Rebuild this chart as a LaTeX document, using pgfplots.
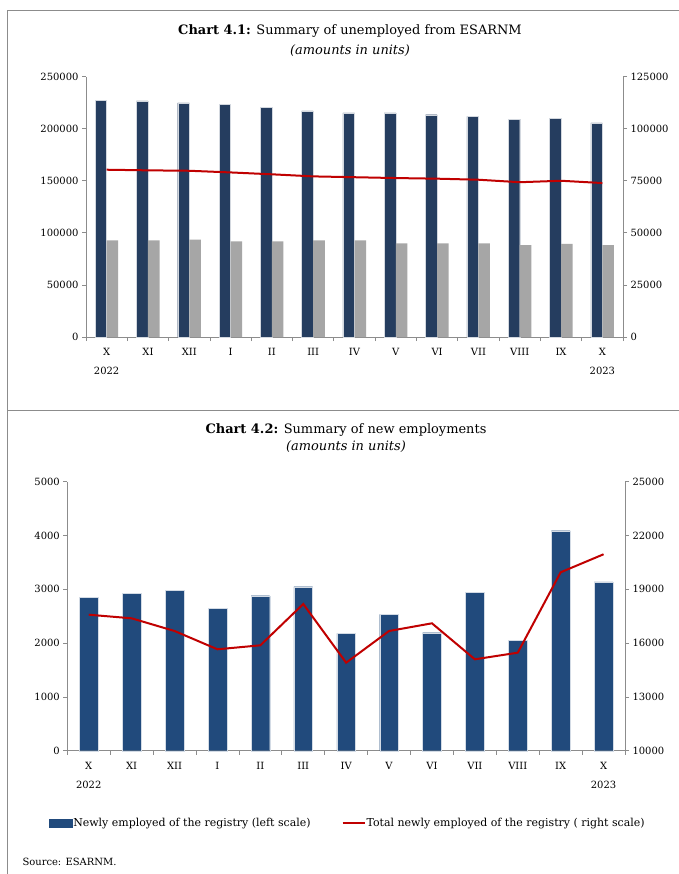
\documentclass[border=0pt]{standalone}
\usepackage{fontspec}
\setmainfont{DejaVu Serif}
\usepackage{pgfplots}
\pgfplotsset{compat=1.18}
\definecolor{navyA}{HTML}{253D5F}
\definecolor{navyB}{HTML}{214A7C}
\definecolor{greyB}{HTML}{A6A6A6}
\definecolor{redL}{HTML}{C00000}
\definecolor{axgray}{HTML}{8C8C8C}
\pgfplotsset{
  common/.style={
    scale only axis,
    axis line style={axgray, line width=0.8bp},
    tick style={axgray, line width=0.8bp},
    tick align=outside,
    major tick length=4bp,
    minor tick length=4bp,
    yticklabel style={font=\fontsize{10}{12}\selectfont, text=black},
    /pgf/number format/fixed,
    /pgf/number format/precision=0,
    /pgf/number format/assume math mode=true,
    /pgf/number format/1000 sep={},
    scaled y ticks=false,
    xmin=-0.5, xmax=12.5,
    clip=false,
  },
  xcats/.style={
    xtick={0,...,12},
    xticklabels={{X\\2022},XI,XII,I,II,III,IV,V,VI,VII,VIII,IX,{X\\2023}},
    xticklabel style={font=\fontsize{10}{19}\selectfont, align=center, text=black, anchor=north, yshift=-4bp},
    major x tick style={draw=none},
    minor xtick={-0.5,0.5,...,12.5},
  },
}
\begin{document}
\begin{tikzpicture}
\useasboundingbox (0,0) rectangle (679bp,-874bp);
\fill[white] (0,0) rectangle (679bp,-874bp);
% frame
\draw[axgray, line width=1bp] (7.5bp,-874bp) -- (7.5bp,-10.5bp) -- (679bp,-10.5bp);
\draw[axgray, line width=1bp] (7.5bp,-410.5bp) -- (679bp,-410.5bp);
% titles
\node[font=\fontsize{13}{15}\selectfont] at (350bp,-31bp) {\textbf{Chart 4.1:} Summary of unemployed from ESARNM};
\node[font=\fontsize{13}{15}\selectfont\itshape] at (350bp,-51bp) {(amounts in units)};
\node[font=\fontsize{13}{15}\selectfont] at (346bp,-430bp) {\textbf{Chart 4.2:} Summary of new employments};
\node[font=\fontsize{13}{15}\selectfont\itshape] at (346bp,-447bp) {(amounts in units)};
\node[font=\fontsize{10}{12}\selectfont, anchor=west] at (19bp,-862bp) {Source: ESARNM.};

% ---------- Chart 4.1 ----------
\begin{axis}[common, xcats, at={(86bp,-337bp)}, anchor=south west,
  width=537bp, height=260.4bp,
  ymin=0, ymax=250000, ytick={0,50000,...,250000},
  axis x line*=bottom, axis y line*=left]
\addplot[ybar, bar width=0.28, bar shift=-0.14, fill=navyA, draw=white!80!navyA, line width=0.4bp] coordinates {
(0,227200) (1,226600) (2,224700) (3,223400) (4,220500) (5,217000) (6,215100)
(7,215100) (8,213400) (9,211900) (10,209000) (11,210000) (12,205500)};
\addplot[ybar, bar width=0.28, bar shift=0.14, fill=greyB, draw=none] coordinates {
(0,92800) (1,92800) (2,93400) (3,91900) (4,91900) (5,92800) (6,92800)
(7,90000) (8,90000) (9,90000) (10,88300) (11,89300) (12,88300)};
\end{axis}
\begin{axis}[common, at={(86bp,-337bp)}, anchor=south west,
  width=537bp, height=260.4bp,
  ymin=0, ymax=125000, ytick={0,25000,...,125000},
  axis y line*=right, axis x line=none]
\addplot[redL, line width=2bp] coordinates {
(0,80300) (1,80000) (2,79800) (3,79000) (4,78100) (5,77100) (6,76700)
(7,76300) (8,76000) (9,75500) (10,74300) (11,75000) (12,73900)};
\end{axis}

% ---------- Chart 4.2 ----------
\begin{axis}[common, xcats, at={(67.3bp,-750.7bp)}, anchor=south west,
  width=557.7bp, height=269bp,
  ymin=0, ymax=5000, ytick={0,1000,...,5000},
  axis x line*=bottom, axis y line*=left,
  legend style={at={(0.502,-0.269)}, anchor=center, draw=none, fill=none,
    legend columns=2, font=\fontsize{11}{13}\selectfont,
    /tikz/every even column/.append style={column sep=30bp},
    nodes={inner sep=1bp}},
  legend cell align=left]
\addplot[ybar, bar width=0.436, bar shift=0, fill=navyB, draw=white!80!navyB, line width=0.4bp,
  legend image code/.code={\fill[navyB] (0bp,-4bp) rectangle (23bp,4bp);}] coordinates {
(0,2857) (1,2931) (2,2987) (3,2652) (4,2881) (5,3048) (6,2182)
(7,2535) (8,2193) (9,2944) (10,2045) (11,4089) (12,3136)};
\addlegendentry{Newly employed of the registry (left scale)}
\addlegendimage{redL, line width=2bp, legend image code/.code={\draw[redL, line width=2bp] (0bp,0bp) -- (22bp,0bp);}}
\addlegendentry{Total newly employed of the registry ( right scale)}
\end{axis}
\begin{axis}[common, at={(67.3bp,-750.7bp)}, anchor=south west,
  width=557.7bp, height=269bp,
  ymin=10000, ymax=25000, ytick={10000,13000,...,25000},
  axis y line*=right, axis x line=none]
\addplot[redL, line width=2bp] coordinates {
(0,17584) (1,17383) (2,16675) (3,15655) (4,15877) (5,18181) (6,14908)
(7,16675) (8,17104) (9,15097) (10,15466) (11,19948) (12,20953)};
\end{axis}
\end{tikzpicture}
\end{document}
